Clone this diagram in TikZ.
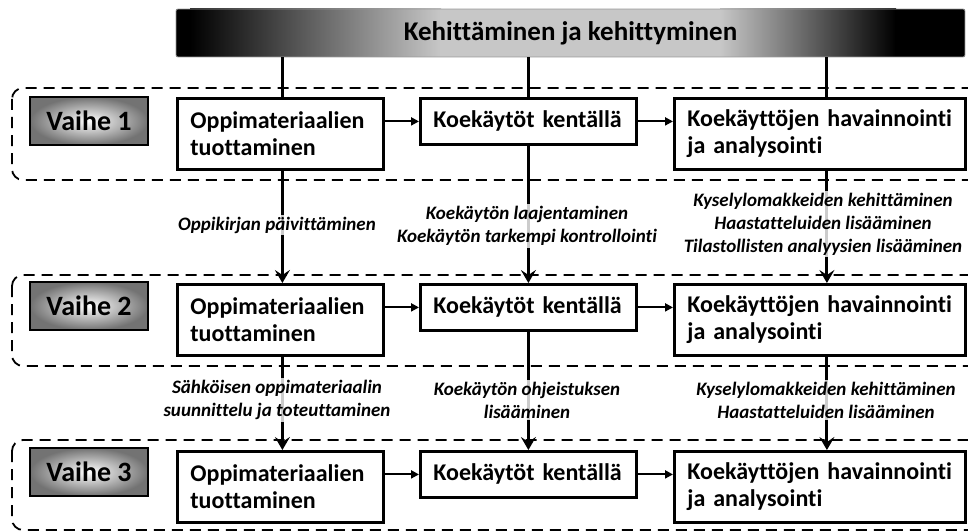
\documentclass[tikz,border=0pt]{standalone}
\usepackage{fontspec}
\setmainfont[Ligatures=NoCommon]{Carlito}
\usetikzlibrary{arrows.meta}

\tikzset{
  phasebox/.style={draw=black, line width=2.8pt, minimum width=118pt, minimum height=48pt,
    inner color=white, outer color=black!55, font=\bfseries\fontsize{28}{30}\selectfont},
  stepbox/.style={draw=black, line width=2.8pt, fill=white, anchor=north west, inner xsep=13pt,
    align=left, font=\bfseries\fontsize{24}{27}\selectfont},
  phaseframe/.style={draw=black, line width=1.8pt, dash pattern=on 11pt off 7pt, rounded corners=11pt},
  flow/.style={line width=2pt, -{Triangle[length=8pt,width=8pt]}},
  feed/.style={line width=3pt, -{Stealth[length=13pt,width=15pt,inset=5pt]}},
  link/.style={line width=3pt},
  note/.style={fill=white, fill opacity=0.8, text opacity=1, align=center, inner sep=2pt,
    font=\bfseries\itshape\fontsize{19}{23}\selectfont},
}

\begin{document}
\begin{tikzpicture}[x=1pt,y=-1pt]
\useasboundingbox (0,0) rectangle (968,532);

% Heading bar: dark ends fading into a light middle
\fill[black] (176,9) rectangle (191,57);
\shade[left color=black, right color=black!22] (190,9) rectangle (441,57);
\fill[black!22] (440,9) rectangle (721,57);
\shade[left color=black!22, right color=black] (720,9) rectangle (896,57);
\fill[black] (895,9) rectangle (965,57);
\node[draw=black!40, line width=0.8pt, rounded corners=2pt,
  minimum width=789pt, minimum height=48pt, font=\bfseries\fontsize{27}{30}\selectfont]
  (bar) at (570.5,33) {Kehittäminen ja kehittyminen};

% Dashed frames around the three phases
\draw[phaseframe] (12,88) rectangle (980,180);
\draw[phaseframe] (12,275) rectangle (980,366);
\draw[phaseframe] (12,440) rectangle (980,530);

% Phase 1
\node[phasebox] (v1) at (89,121) {Vaihe 1};
\node[stepbox, minimum width=206pt, minimum height=71pt, text width=180pt] (a1) at (176,97)
  {Oppimateriaalien\\tuottaminen};
\node[stepbox, minimum width=215pt, minimum height=46pt, text width=190pt] (b1) at (419,97)
  {Koekäytöt kentällä};
\node[stepbox, minimum width=291pt, minimum height=71pt, text width=265pt] (c1) at (673,97)
  {Koekäyttöjen havainnointi\\ja analysointi};

% Phase 2
\node[phasebox] (v2) at (89,306) {Vaihe 2};
\node[stepbox, minimum width=206pt, minimum height=71pt, text width=180pt] (a2) at (176,283)
  {Oppimateriaalien\\tuottaminen};
\node[stepbox, minimum width=215pt, minimum height=46pt, text width=190pt] (b2) at (419,283)
  {Koekäytöt kentällä};
\node[stepbox, minimum width=291pt, minimum height=71pt, text width=265pt] (c2) at (673,283)
  {Koekäyttöjen havainnointi\\ja analysointi};

% Phase 3
\node[phasebox] (v3) at (89,472) {Vaihe 3};
\node[stepbox, minimum width=206pt, minimum height=71pt, text width=180pt] (a3) at (176,450)
  {Oppimateriaalien\\tuottaminen};
\node[stepbox, minimum width=215pt, minimum height=46pt, text width=190pt] (b3) at (419,450)
  {Koekäytöt kentällä};
\node[stepbox, minimum width=291pt, minimum height=71pt, text width=265pt] (c3) at (673,450)
  {Koekäyttöjen havainnointi\\ja analysointi};

% Flow inside each phase
\foreach \r in {1,2,3}{
  \draw[flow] (a\r.east |- b\r.east) -- (b\r.west);
  \draw[flow] (b\r.east) -- (b\r.east -| c\r.west);
}

% Links from the heading bar
\draw[link] ([xshift=2pt]a1.north |- bar.south) -- ([xshift=2pt]a1.north);
\draw[link] (b1.north |- bar.south) -- (b1.north);
\draw[link] ([xshift=7pt]c1.north |- bar.south) -- ([xshift=7pt]c1.north);

% Feedback between phases
\draw[feed] ([xshift=2pt]a1.south) -- ([xshift=2pt]a2.north);
\draw[feed] (b1.south) -- (b2.north);
\draw[feed] ([xshift=7pt]c1.south) -- ([xshift=7pt]c2.north);
\draw[feed] ([xshift=2pt]a2.south) -- ([xshift=2pt]a3.north);
\draw[feed] (b2.south) -- (b3.north);
\draw[feed] ([xshift=7pt]c2.south) -- ([xshift=7pt]c3.north);

% Notes on the feedback links
\node[note] (n1) at (277,225) {Oppikirjan päivittäminen};
\node[note] (n2) at (527,226) {Koekäytön laajentaminen\\Koekäytön tarkempi kontrollointi};
\node[note] (n3) at (823,224) {Kyselylomakkeiden kehittäminen\\Haastatteluiden lisääminen\\Tilastollisten analyysien lisääminen};
\node[note] (n4) at (277,400) {Sähköisen oppimateriaalin\\suunnittelu ja toteuttaminen};
\node[note] (n5) at (527,400) {Koekäytön ohjeistuksen\\lisääminen};
\node[note] (n6) at (826,400) {Kyselylomakkeiden kehittäminen\\Haastatteluiden lisääminen};
\end{tikzpicture}
\end{document}
